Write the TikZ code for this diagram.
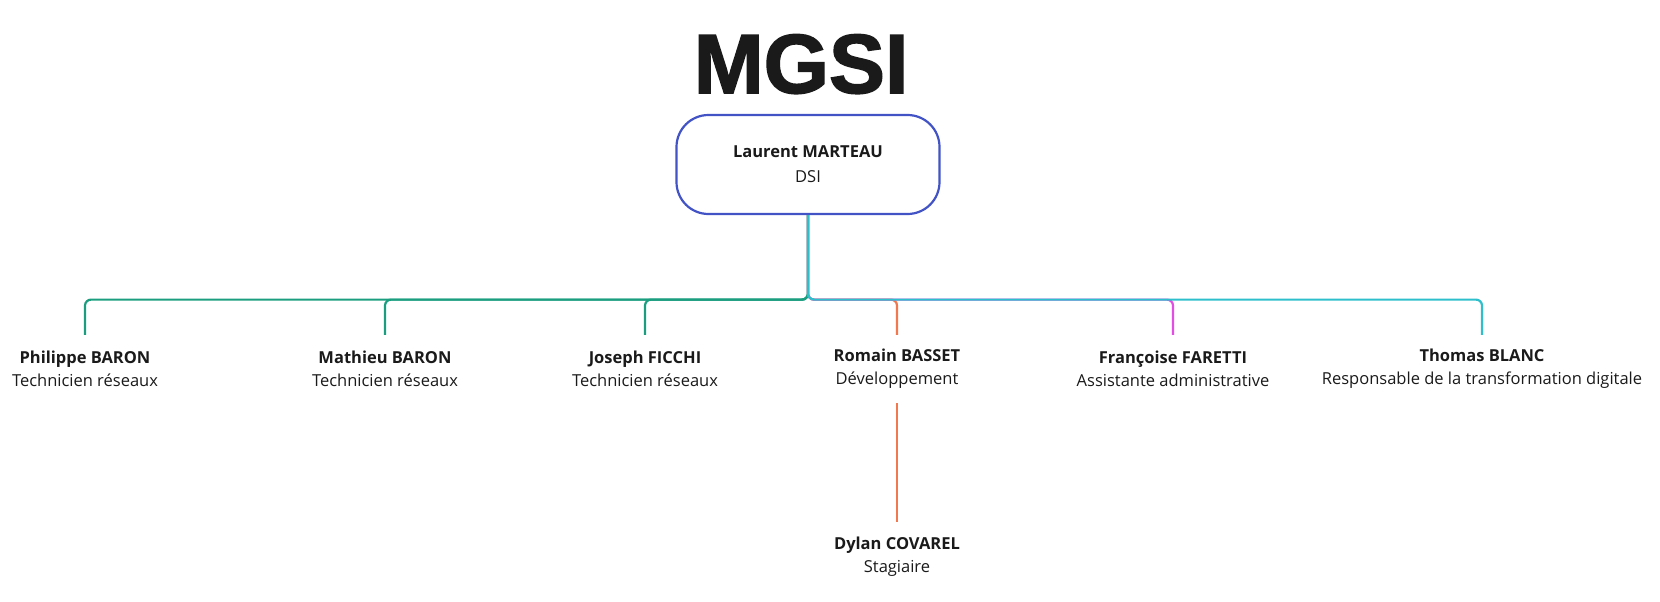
\documentclass[tikz,border=0pt]{standalone}
\usepackage{fontspec}
\setmainfont{Open Sans}
\newfontfamily\titlefont[FakeBold=1.8]{Liberation Sans Bold}
\usetikzlibrary{positioning}
\definecolor{mgblue}{HTML}{4253C6}
\definecolor{mggreen}{HTML}{1B9E80}
\definecolor{mgcyan}{HTML}{2EBFCC}
\definecolor{mgorange}{HTML}{F2784F}
\definecolor{mgpink}{HTML}{E34DE3}
\definecolor{mgtext}{HTML}{1A1A1A}

\begin{document}
\begin{tikzpicture}[
  x=1pt, y=-1pt,
  boss/.style={draw=mgblue, line width=2.2pt, rounded corners=32pt, align=center,
               minimum width=263pt, minimum height=99pt, text=mgtext,
               font=\fontsize{16.5}{25}\selectfont},
  member/.style={align=center, inner sep=0pt, minimum height=68pt, text=mgtext,
                 font=\fontsize{16.5}{23}\selectfont},
  link/.style={line width=2.2pt, rounded corners=6pt}
]
\useasboundingbox (0,0) rectangle (1660,602);
\node[anchor=base, text=mgtext, font=\titlefont\fontsize{84}{84}\selectfont] (title) at (801,93) {MGSI};
\node[boss] (dsi) at (808,164.5) {\textbf{Laurent MARTEAU}\\DSI};
\node[member] (philippe) at (85,369) {\textbf{Philippe BARON}\\Technicien réseaux};
\node[member] (mathieu) at (385,369) {\textbf{Mathieu BARON}\\Technicien réseaux};
\node[member] (joseph) at (645,369) {\textbf{Joseph FICCHI}\\Technicien réseaux};
\node[member] (romain) at (897,369) {\textbf{Romain BASSET}\\Développement};
\node[member] (francoise) at (1173,369) {\textbf{Françoise FARETTI}\\Assistante administrative};
\node[member] (thomas) at (1482,369) {\textbf{Thomas BLANC}\\Responsable de la transformation digitale};
\node[member, below=119pt of romain] (dylan) {\textbf{Dylan COVAREL}\\Stagiaire};
\foreach \who/\col in {philippe/mggreen, mathieu/mggreen, joseph/mggreen,
                       romain/mgorange, francoise/mgpink, thomas/mgcyan}
  \draw[link, \col] (dsi.south) -- ++(0,84.5) -| (\who.north);
\draw[link, mgorange] (romain.south) -- (dylan.north);
\end{tikzpicture}
\end{document}
